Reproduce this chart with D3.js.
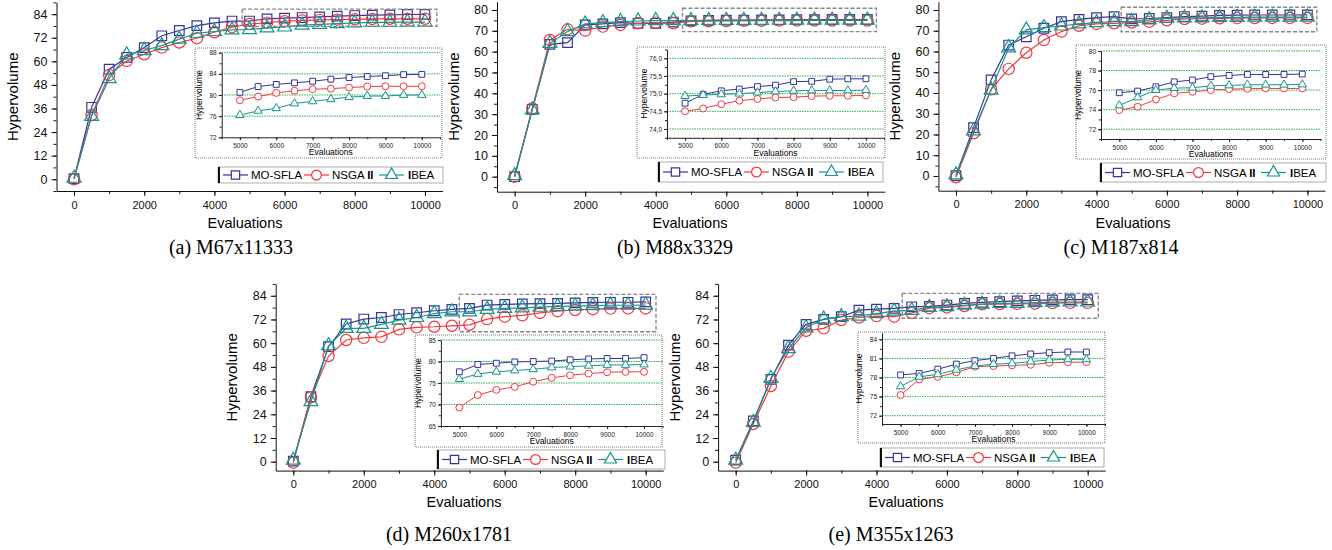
<!DOCTYPE html>
<html>
<head>
<meta charset="utf-8">
<script src="https://cdn.jsdelivr.net/npm/d3@7"></script>
<style>
  body { margin: 0; background: #fff; }
  text { font-family: Arial, "Liberation Sans", sans-serif; }
</style>
</head>
<body>
<svg id="fig" width="1332" height="550"></svg>
<script>
// x values (evaluations) of every point
var evaluations = [0, 500, 1000, 1500, 2000, 2500, 3000, 3500, 4000, 4500, 5000,
  5500, 6000, 6500, 7000, 7500, 8000, 8500, 9000, 9500, 10000];
var seriesNames = ["MO-SFLA", "NSGA II", "IBEA"];
var colors = ["#35359b", "#f03a3f", "#16958a"];

// hypervolume
var a_mosfla = [0.3, 36.6, 56.0, 62.0, 67.0, 73.0, 75.7, 78.2, 79.6, 80.5, 80.5, 81.6, 82.0, 82.3, 82.6, 83.0, 83.3, 83.5, 83.65, 83.85, 83.9];
var a_nsga   = [0.0, 32.7, 53.0, 60.2, 63.6, 67.0, 69.6, 71.8, 74.8, 77.4, 79.0, 79.7, 80.4, 80.8, 81.1, 81.2, 81.4, 81.6, 81.65, 81.65, 81.65];
var a_ibea   = [0.5, 32.0, 51.2, 63.3, 65.5, 68.0, 71.3, 74.3, 75.2, 76.0, 76.2, 77.0, 77.5, 78.4, 78.8, 79.2, 79.6, 79.8, 79.8, 80.0, 80.0];

var b_mosfla = [0.0, 32.3, 63.5, 64.3, 72.8, 73.3, 73.9, 73.6, 73.6, 74.2, 74.73, 74.98, 75.08, 75.13, 75.2, 75.24, 75.34, 75.35, 75.41, 75.42, 75.42];
var b_nsga   = [0.0, 32.8, 65.6, 70.7, 70.1, 72.0, 72.8, 73.6, 73.9, 73.6, 74.5, 74.58, 74.7, 74.8, 74.85, 74.89, 74.9, 74.93, 74.94, 74.94, 74.95];
var b_ibea   = [0.5, 32.0, 64.0, 69.6, 73.3, 73.9, 74.4, 74.7, 74.9, 74.9, 74.93, 74.96, 74.98, 75.0, 75.03, 75.06, 75.08, 75.09, 75.09, 75.09, 75.1];

var c_mosfla = [0.2, 23.3, 46.3, 63.1, 67.1, 71.2, 74.4, 75.5, 76.3, 76.8, 75.73, 75.9, 76.34, 76.85, 77.03, 77.37, 77.5, 77.6, 77.6, 77.6, 77.64];
var c_nsga   = [-0.6, 20.6, 41.8, 51.6, 59.4, 65.5, 69.6, 72.4, 73.3, 73.6, 73.95, 74.3, 75.04, 75.66, 75.83, 76.0, 76.1, 76.14, 76.17, 76.17, 76.17];
var c_ibea   = [0.5, 21.7, 41.4, 61.8, 70.4, 71.5, 72.3, 73.3, 73.9, 74.4, 74.43, 75.25, 76.0, 76.2, 76.24, 76.44, 76.48, 76.55, 76.55, 76.55, 76.58];

var d_mosfla = [0.3, 32.9, 58.2, 69.7, 72.2, 73.0, 74.5, 75.4, 76.4, 77.1, 77.6, 79.3, 79.6, 79.9, 80.0, 80.1, 80.4, 80.6, 80.7, 80.7, 80.9];
var d_nsga   = [-0.5, 32.6, 53.5, 61.6, 62.7, 63.2, 67.0, 68.0, 68.3, 68.8, 69.3, 72.2, 73.4, 74.1, 75.3, 76.2, 76.8, 77.2, 77.5, 77.6, 77.6];
var d_ibea   = [0.8, 30.4, 58.7, 67.5, 67.5, 69.5, 71.7, 73.0, 75.0, 75.9, 75.9, 77.1, 77.6, 77.9, 78.2, 78.6, 78.8, 79.0, 79.2, 79.2, 79.3];

var e_mosfla = [0.8, 20.6, 41.7, 59.0, 69.5, 72.0, 73.4, 76.7, 77.2, 77.6, 78.4, 78.65, 79.3, 80.1, 80.65, 81.0, 81.4, 81.7, 81.9, 82.0, 82.0];
var e_nsga   = [-0.5, 19.1, 38.3, 55.7, 66.3, 67.5, 71.7, 73.0, 73.7, 73.4, 75.25, 77.7, 78.1, 78.8, 79.7, 79.8, 79.9, 80.0, 80.3, 80.4, 80.4];
var e_ibea   = [0.8, 19.9, 42.2, 57.3, 67.8, 72.2, 73.4, 73.7, 75.0, 76.2, 76.6, 78.1, 78.5, 79.2, 79.8, 80.1, 80.2, 80.5, 80.75, 80.85, 80.85];

var captions = ["(a)  M67x11333", "(b)  M88x3329", "(c)  M187x814", "(d)  M260x1781", "(e)  M355x1263"];

// tick labels
var xTicks = [0, 2000, 4000, 6000, 8000, 10000];
var yTicks84 = [0, 12, 24, 36, 48, 60, 72, 84];
var yTicks80 = [0, 10, 20, 30, 40, 50, 60, 70, 80];
var insetXTicks = [5000, 6000, 7000, 8000, 9000, 10000];
var insetTicksA = [72, 76, 80, 84, 88];
var insetTicksB = [74.0, 74.5, 75.0, 75.5, 76.0];
var insetTicksC = [72, 74, 76, 78, 80];
var insetTicksD = [65, 70, 75, 80, 85];
var insetTicksE = [72, 75, 78, 81, 84];

var svg = d3.select("#fig");
var symbols = [d3.symbolSquare, d3.symbolCircle, d3.symbolTriangle];
var mainSizes = [92, 100, 84];
var insetSizes = [34, 38, 30];

var intFmt = d3.format("d");
var commaFmt = function (d) { return d.toFixed(1).replace(".", ","); };

// layout for each panel
var panels = [
  { data: [a_mosfla, a_nsga, a_ibea], yTicks: yTicks84, yMinor: 6,
    xr: [56.5, 442.5], yd: [-6, 90], yr: [191, 2.4], box: [4790, 10340, 77.8, 86.6],
    ylabX: 18, xlab: [245, 228], cap: [231, 254],
    inset: { rect: [195, 48, 247, 110], xr: [221.7, 440], yd: [72, 88], yr: [137.3, 52.7],
      ticks: insetTicksA, minor: 2, fmt: intFmt },
    legend: [218, 167, 225, 16] },
  { data: [b_mosfla, b_nsga, b_ibea], yTicks: yTicks80, yMinor: 5,
    xr: [497, 885], yd: [-7.2, 84], yr: [191.7, 1.6], box: [4760, 10256, 69.6, 80.8],
    ylabX: 459, xlab: [690, 228], cap: [675, 254],
    inset: { rect: [637, 47, 248, 111], xr: [667, 884], yd: [73.75, 76.25], yr: [137.8, 49.5],
      ticks: insetTicksB, minor: 0.25, fmt: commaFmt },
    legend: [658, 162, 225, 20] },
  { data: [c_mosfla, c_nsga, c_ibea], yTicks: yTicks80, yMinor: 5,
    xr: [938.4, 1325], yd: [-7.1, 84], yr: [190.7, 1.7], box: [4700, 10268, 69.5, 81.3],
    ylabX: 900, xlab: [1133, 228], cap: [1121, 254],
    inset: { rect: [1076, 45, 250, 114], xr: [1101, 1320.6], yd: [71, 80], yr: [139, 51],
      ticks: insetTicksC, minor: 1, fmt: intFmt },
    legend: [1100, 163, 226, 19] },
  { data: [d_mosfla, d_nsga, d_ibea], yTicks: yTicks84, yMinor: 6,
    xr: [275.7, 663.3], yd: [-4.5, 90], yr: [470.6, 283.9], box: [4710, 10293, 65.8, 84.7],
    ylabX: 237, xlab: [464, 507], cap: [449, 541],
    inset: { rect: [415, 335, 247, 112], xr: [440.9, 662.5], yd: [65, 85], yr: [426, 340],
      ticks: insetTicksD, minor: 2.5, fmt: intFmt },
    legend: [437, 450, 228, 19] },
  { data: [e_mosfla, e_nsga, e_ibea], yTicks: yTicks84, yMinor: 6,
    xr: [718.1, 1105.3], yd: [-4.5, 90], yr: [470.6, 283.9], box: [4733, 10301, 72.6, 85.2],
    ylabX: 680, xlab: [906, 507], cap: [891, 541],
    inset: { rect: [858, 332, 247, 111], xr: [882, 1105], yd: [70.7, 85], yr: [424, 332.9],
      ticks: insetTicksE, minor: 1.5, fmt: intFmt },
    legend: [880, 448, 224, 19] }
];

function minorValues(d0, d1, step) {
  return d3.range(Math.ceil(d0 / step) * step, d1 + 1e-9, step);
}

function drawSeries(g, x, y, data, sizes, fill, width) {
  data.forEach(function (vals, s) {
    var pts = vals.map(function (v, i) { return [evaluations[i + (21 - vals.length)], v]; });
    g.append("path")
      .attr("d", d3.line().x(function (d) { return x(d[0]); }).y(function (d) { return y(d[1]); })(pts))
      .attr("fill", "none")
      .attr("stroke", colors[s])
      .attr("stroke-width", width);
    g.selectAll(null)
      .data(pts)
      .enter()
      .append("path")
      .attr("d", d3.symbol().type(symbols[s]).size(sizes[s]))
      .attr("transform", function (d) { return "translate(" + x(d[0]) + "," + y(d[1]) + ")"; })
      .attr("fill", fill)
      .attr("stroke", colors[s])
      .attr("stroke-width", width);
  });
}

panels.forEach(function (p, pi) {
  var g = svg.append("g");
  var x = d3.scaleLinear().domain([-500, 10500]).range(p.xr);
  var y = d3.scaleLinear().domain(p.yd).range(p.yr);
  var xAxisY = p.yr[0], yAxisX = p.xr[0];

  // main axes
  var gx = g.append("g").attr("transform", "translate(0," + xAxisY + ")")
    .call(d3.axisBottom(x).tickValues(xTicks).tickFormat(intFmt).tickSize(5).tickSizeOuter(0).tickPadding(5));
  g.append("g").attr("transform", "translate(0," + xAxisY + ")")
    .call(d3.axisBottom(x).tickValues(minorValues(0, 10000, 1000)).tickFormat("").tickSize(3).tickSizeOuter(0))
    .select(".domain").remove();
  var gy = g.append("g").attr("transform", "translate(" + yAxisX + ",0)")
    .call(d3.axisLeft(y).tickValues(p.yTicks).tickSize(5).tickSizeOuter(0).tickPadding(4));
  g.append("g").attr("transform", "translate(" + yAxisX + ",0)")
    .call(d3.axisLeft(y).tickValues(minorValues(p.yd[0], p.yd[1], p.yMinor)).tickFormat("").tickSize(3).tickSizeOuter(0))
    .select(".domain").remove();
  gx.selectAll("text").style("font-size", "11px").attr("fill", "#111");
  gy.selectAll("text").style("font-size", "12.5px").attr("fill", "#111");
  g.selectAll(".domain, .tick line").attr("stroke", "#111");

  g.append("text")
    .attr("transform", "translate(" + p.ylabX + "," + ((p.yr[0] + p.yr[1]) / 2) + ") rotate(-90)")
    .attr("text-anchor", "middle")
    .style("font-size", "15px")
    .text("Hypervolume");
  g.append("text")
    .attr("x", p.xlab[0]).attr("y", p.xlab[1])
    .attr("text-anchor", "middle")
    .style("font-size", "14.5px")
    .text("Evaluations");
  g.append("text")
    .attr("x", p.cap[0]).attr("y", p.cap[1])
    .attr("text-anchor", "middle")
    .style("font-family", "'Liberation Serif', 'Times New Roman', serif")
    .style("font-size", "20px")
    .text(captions[pi]);

  drawSeries(g, x, y, p.data, mainSizes, "none", 1.2);

  // dashed zoom box
  g.append("rect")
    .attr("x", x(p.box[0])).attr("y", y(p.box[3]))
    .attr("width", x(p.box[1]) - x(p.box[0]))
    .attr("height", y(p.box[2]) - y(p.box[3]))
    .attr("fill", "none")
    .attr("stroke", "#888")
    .attr("stroke-width", 1.4)
    .attr("stroke-dasharray", "4,2");

  // inset
  var q = p.inset;
  var ig = g.append("g");
  ig.append("rect")
    .attr("x", q.rect[0]).attr("y", q.rect[1])
    .attr("width", q.rect[2]).attr("height", q.rect[3])
    .attr("fill", "#fff")
    .attr("stroke", "#777")
    .attr("stroke-dasharray", "1,1");
  var ix = d3.scaleLinear().domain([4500, 10500]).range(q.xr);
  var iy = d3.scaleLinear().domain(q.yd).range(q.yr);

  ig.selectAll(null)
    .data(q.ticks.filter(function (t) { return t > q.yd[0] + 1e-6; }))
    .enter()
    .append("line")
    .attr("x1", q.xr[0]).attr("x2", q.xr[1])
    .attr("y1", function (d) { return iy(d); })
    .attr("y2", function (d) { return iy(d); })
    .attr("stroke", "#1fb34a")
    .attr("stroke-width", 1)
    .attr("stroke-dasharray", "1.5,1");

  ig.append("g").attr("transform", "translate(0," + q.yr[0] + ")")
    .call(d3.axisBottom(ix).tickValues(insetXTicks).tickFormat(intFmt).tickSize(3).tickSizeOuter(0).tickPadding(3));
  ig.append("g").attr("transform", "translate(0," + q.yr[0] + ")")
    .call(d3.axisBottom(ix).tickValues(minorValues(4500, 10500, 500)).tickFormat("").tickSize(2).tickSizeOuter(0))
    .select(".domain").remove();
  ig.append("g").attr("transform", "translate(" + q.xr[0] + ",0)")
    .call(d3.axisLeft(iy).tickValues(q.ticks).tickFormat(q.fmt).tickSize(3).tickSizeOuter(0).tickPadding(2));
  ig.append("g").attr("transform", "translate(" + q.xr[0] + ",0)")
    .call(d3.axisLeft(iy).tickValues(minorValues(q.yd[0], q.yd[1], q.minor)).tickFormat("").tickSize(2).tickSizeOuter(0))
    .select(".domain").remove();
  ig.selectAll("text").style("font-size", "6.5px").attr("fill", "#222");
  ig.selectAll(".domain, .tick line").attr("stroke", "#222");

  ig.append("text")
    .attr("transform", "translate(" + (q.xr[0] - 20) + "," + ((q.yr[0] + q.yr[1]) / 2) + ") rotate(-90)")
    .attr("text-anchor", "middle")
    .style("font-size", "8.5px")
    .text("Hypervolume");
  ig.append("text")
    .attr("x", (q.xr[0] + q.xr[1]) / 2).attr("y", q.yr[0] + 18)
    .attr("text-anchor", "middle")
    .style("font-size", "8.5px")
    .text("Evaluations");

  drawSeries(ig, ix, iy, p.data.map(function (v) { return v.slice(10); }), insetSizes, "#fff", 1);

  // legend
  var L = p.legend;
  var lg = g.append("g").attr("transform", "translate(" + L[0] + "," + L[1] + ")");
  lg.append("rect").attr("width", L[2]).attr("height", L[3])
    .attr("fill", "#fff").attr("stroke", "#999").attr("stroke-width", 0.8);
  lg.append("line").attr("x1", 1).attr("x2", 1).attr("y1", 0).attr("y2", L[3])
    .attr("stroke", "#111").attr("stroke-width", 2);
  var offs = [[5, 33], [86, 114], [161, 190]];
  seriesNames.forEach(function (name, s) {
    var cy = L[3] / 2;
    lg.append("line")
      .attr("x1", offs[s][0]).attr("x2", offs[s][0] + 25)
      .attr("y1", cy).attr("y2", cy)
      .attr("stroke", colors[s]).attr("stroke-width", 1.2);
    lg.append("path")
      .attr("d", d3.symbol().type(symbols[s]).size(mainSizes[s] * 0.75))
      .attr("transform", "translate(" + (offs[s][0] + 12.5) + "," + cy + ")")
      .attr("fill", "#fff").attr("stroke", colors[s]).attr("stroke-width", 1.2);
    var t = lg.append("text")
      .attr("x", offs[s][1]).attr("y", cy + 4.3)
      .style("font-size", "11.5px");
    if (s === 0) t.text(name);
    if (s === 1) { t.append("tspan").text("NSGA "); t.append("tspan").style("font-weight", "bold").text("II"); }
    if (s === 2) { t.append("tspan").style("font-weight", "bold").text("I"); t.append("tspan").text("BEA"); }
  });
});
</script>
</body>
</html>
